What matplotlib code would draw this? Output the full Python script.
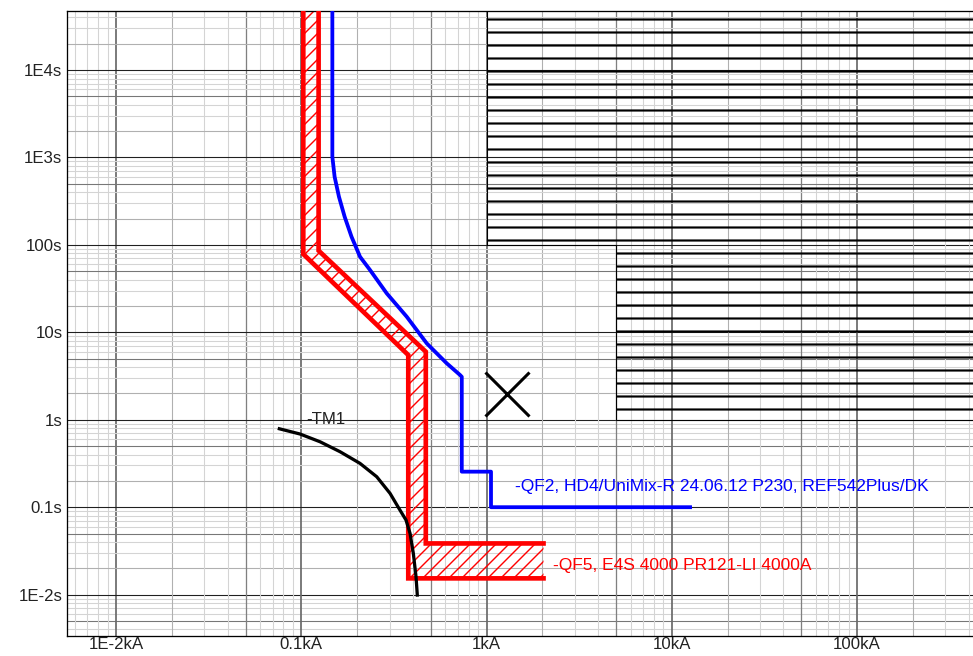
import numpy as np
import matplotlib.pyplot as plt
from matplotlib.patches import Polygon

plt.rcParams['font.family'] = ['Liberation Sans', 'DejaVu Sans']

# -QF5 trip band, lower / upper limit (current kA, time s)
qf5_lo_i = [0.1025, 0.1025, 0.378, 0.378, 2.03]
qf5_lo_t = [1e5, 78.5, 5.5, 0.01535, 0.01535]
qf5_hi_i = [0.124, 0.124, 0.470, 0.470, 2.03]
qf5_hi_t = [1e5, 86.0, 6.0, 0.0385, 0.0385]

# -QF2 relay curve
qf2_i = [0.1471, 0.1471, 0.1513, 0.1597, 0.1714, 0.1867, 0.2075, 0.235, 0.2892,
         0.3709, 0.4755, 0.6097, 0.7194, 0.735, 0.735, 1.057, 1.057, 12.55]
qf2_t = [1e5, 1020, 602, 355.5, 210, 124, 73.2, 51.6, 27.9,
         15.08, 7.48, 4.42, 3.25, 3.10, 0.255, 0.255, 0.1, 0.1]

# -TM1 curve
tm1_i = [0.0761, 0.0985, 0.1263, 0.1619, 0.2075, 0.2554, 0.3013, 0.3365, 0.3675,
         0.3864, 0.4025, 0.4162, 0.4229]
tm1_t = [0.789, 0.687, 0.560, 0.431, 0.317, 0.223, 0.144, 0.0970, 0.0713,
         0.0502, 0.02965, 0.01601, 0.00989]

# hatched zone (upper right)
zone_i = [1, 1, 5, 5, 1e4, 1e4]
zone_t = [1e6, 100, 100, 1, 1, 1e6]

# cross mark
cross_i, cross_t = 1.285, 1.97

x_ticks = [1e-2, 1e-1, 1, 10, 100]
x_labels = ['1E-2kA', '0.1kA', '1kA', '10kA', '100kA']
y_ticks = [1e-2, 1e-1, 1, 10, 100, 1e3, 1e4]
y_labels = ['1E-2s', '0.1s', '1s', '10s', '100s', '1E3s', '1E4s']

qf2_label = '-QF2, HD4/UniMix-R 24.06.12 P230, REF542Plus/DK'
qf5_label = '-QF5, E4S 4000 PR121-LI 4000A'
tm1_label = '-TM1'

dpi = 78
fig = plt.figure(figsize=(973 / dpi, 656 / dpi), dpi=dpi)
ax = fig.add_axes([0.0692, 0.0309, 0.9308, 0.9523])
ax.set_xscale('log')
ax.set_yscale('log')
ax.set_xlim(10 ** -2.263, 10 ** 2.626)
ax.set_ylim(10 ** -2.470, 10 ** 4.675)

# grid: decades dark, x5 and x2 mid grey, rest light
for d in range(-3, 5):
    for m in range(1, 10):
        v = m * 10.0 ** d
        if m == 1:
            ax.axvline(v, color='#6a6a6a', lw=1.6, zorder=0)
            ax.axhline(v, color='#202020', lw=1.0, zorder=0)
        elif m == 5:
            ax.axvline(v, color='#808080', lw=1.2, zorder=0)
            ax.axhline(v, color='#777777', lw=1.0, zorder=0)
        elif m == 2:
            ax.axvline(v, color='#b0b0b0', lw=1.0, zorder=0)
            ax.axhline(v, color='#b0b0b0', lw=1.0, zorder=0)
        else:
            ax.axvline(v, color='#d4d4d4', lw=1.0, zorder=0)
            ax.axhline(v, color='#d4d4d4', lw=1.0, zorder=0)

with plt.rc_context({'hatch.linewidth': 2.0, 'hatch.color': 'black'}):
    zone = Polygon(np.column_stack([zone_i, zone_t]), closed=True, facecolor='none',
                   edgecolor='black', lw=1.0, hatch='-', zorder=1)
    ax.add_patch(zone)

with plt.rc_context({'hatch.linewidth': 1.3, 'hatch.color': 'red'}):
    band_pts = np.column_stack([qf5_lo_i + qf5_hi_i[::-1], qf5_lo_t + qf5_hi_t[::-1]])
    band = Polygon(band_pts, closed=True, facecolor='none', edgecolor='red',
                   lw=0, hatch='//', zorder=2)
    ax.add_patch(band)

ax.plot(qf5_lo_i, qf5_lo_t, color='red', lw=4.3, solid_joinstyle='miter', zorder=3)
ax.plot(qf5_hi_i, qf5_hi_t, color='red', lw=4.3, solid_joinstyle='miter', zorder=3)
ax.plot(qf2_i, qf2_t, color='#0000ff', lw=3.5, zorder=4)
ax.plot(tm1_i, tm1_t, color='black', lw=3.0, zorder=5)
ax.plot([cross_i], [cross_t], marker='x', color='black', markersize=40,
        markeredgewidth=2.8, zorder=5)

ax.text(1.426, 0.171, qf2_label, color='#0000ff', fontsize=16, va='center', ha='left')
ax.text(2.29, 0.0214, qf5_label, color='red', fontsize=16, va='center', ha='left')
ax.text(0.107, 1.0, tm1_label, color='#222222', fontsize=15.5, va='center', ha='left')

ax.set_xticks(x_ticks)
ax.set_xticklabels(x_labels)
ax.set_yticks(y_ticks)
ax.set_yticklabels(y_labels)
ax.minorticks_off()
ax.tick_params(length=0, labelsize=15.5, labelcolor='#222222')
ax.tick_params(axis='x', pad=1.5)
ax.tick_params(axis='y', pad=4.5)
for side in ['left', 'bottom', 'top']:
    ax.spines[side].set_color('black')
    ax.spines[side].set_linewidth(1.2)
ax.spines['right'].set_visible(False)

fig.savefig('out.png', dpi=dpi)
